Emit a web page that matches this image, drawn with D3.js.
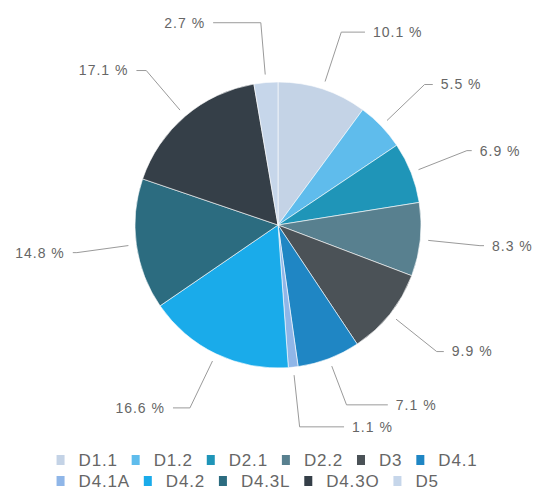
<!DOCTYPE html>
<html>
<head>
<meta charset="utf-8">
<script src="https://cdn.jsdelivr.net/npm/d3@7"></script>
<style>
  body { margin: 0; background: #fff; }
  svg { display: block; font-family: "Liberation Sans", Arial, sans-serif; }
</style>
</head>
<body>
<svg id="chart" width="535" height="492"></svg>
<script>
// data
const categories = ["D1.1", "D1.2", "D2.1", "D2.2", "D3", "D4.1", "D4.1A", "D4.2", "D4.3L", "D4.3O", "D5"];
const shares = [10.1, 5.5, 6.9, 8.3, 9.9, 7.1, 1.1, 16.6, 14.8, 17.1, 2.7];
const colors = ["#c4d3e6", "#5fbcec", "#1f95b8", "#58808f", "#4b5257", "#1f86c4",
                "#8fb6e8", "#1aabea", "#2c6c80", "#353f48", "#c6d6ea"];

const svg = d3.select("#chart");
const cx = 278, cy = 225, r = 143;

const pie = d3.pie().sort(null).value(d => d);
const arc = d3.arc().innerRadius(0).outerRadius(r);
const arcs = pie(shares);

const g = svg.append("g").attr("transform", "translate(" + cx + "," + cy + ")");

g.selectAll("path.slice")
  .data(arcs)
  .enter().append("path")
  .attr("class", "slice")
  .attr("d", arc)
  .attr("fill", (d, i) => colors[i])
  .attr("stroke", "#fff")
  .attr("stroke-width", 0.6);

// label positions: elbow on the slice's mid ray, text on a wider circle
const elbowR = r + 60, textR = r + 72, gap = 8, minSpace = 22;
let labels = arcs.map((d, i) => {
  const a = (d.startAngle + d.endAngle) / 2;
  return {
    i: i, a: a,
    side: Math.sin(a) >= 0 ? 1 : -1,
    y: -Math.cos(a) * elbowR
  };
});

// push overlapping labels apart (upwards), per side
[1, -1].forEach(side => {
  const s = labels.filter(l => l.side === side).sort((p, q) => p.y - q.y);
  for (let k = s.length - 2; k >= 0; k--) {
    if (s[k + 1].y - s[k].y < minSpace) s[k].y = s[k + 1].y - minSpace;
  }
});

labels.forEach(l => {
  const inner = [Math.sin(l.a) * (r + 8), -Math.cos(l.a) * (r + 8)];
  const ey = l.y;
  const ex = -ey * Math.tan(l.a);
  const tx = l.side * Math.sqrt(Math.max(textR * textR - ey * ey, 0));
  let lx = tx - l.side * gap;
  if ((lx - ex) * l.side < 0) lx = ex;
  l.points = [inner, [ex, ey], [lx, ey]];
  l.tx = Math.max(Math.abs(tx), Math.abs(lx) + gap) * l.side;
});

g.selectAll("path.connector")
  .data(labels)
  .enter().append("path")
  .attr("class", "connector")
  .attr("d", l => d3.line()(l.points))
  .attr("fill", "none")
  .attr("stroke", "#9a9a9a")
  .attr("stroke-width", 1);

g.selectAll("text.label")
  .data(labels)
  .enter().append("text")
  .attr("class", "label")
  .attr("x", l => l.tx)
  .attr("y", l => l.y)
  .attr("dy", "0.35em")
  .attr("text-anchor", l => l.side > 0 ? "start" : "end")
  .style("font-size", "14px")
  .style("letter-spacing", "1px")
  .style("fill", "#666")
  .text(l => shares[l.i].toFixed(1) + " %");

// legend, wrapped rows, rows left aligned, block centred
const legend = svg.append("g");
const items = legend.selectAll("g.item")
  .data(categories)
  .enter().append("g")
  .attr("class", "item");

items.append("rect")
  .attr("width", 8).attr("height", 10)
  .attr("y", -5)
  .attr("fill", (d, i) => colors[i]);

items.append("text")
  .attr("x", 22)
  .attr("dy", "0.35em")
  .style("font-size", "17px")
  .style("letter-spacing", "0.8px")
  .style("fill", "#666")
  .text(d => d);

const maxW = 480, itemGap = 14, rowH = 21;
let rows = [[]], rowW = [0];
items.each(function () {
  const w = 22 + this.querySelector("text").getComputedTextLength() + itemGap;
  const k = rows.length - 1;
  if (rowW[k] + w > maxW && rows[k].length) { rows.push([]); rowW.push(0); }
  const j = rows.length - 1;
  rows[j].push({ node: this, x: rowW[j] });
  rowW[j] += w;
});
const blockW = d3.max(rowW) - itemGap;
const left = 267 - blockW / 2;
rows.forEach((row, j) => {
  row.forEach(it => {
    d3.select(it.node).attr("transform", "translate(" + (left + it.x) + "," + (460 + j * rowH) + ")");
  });
});
</script>
</body>
</html>
